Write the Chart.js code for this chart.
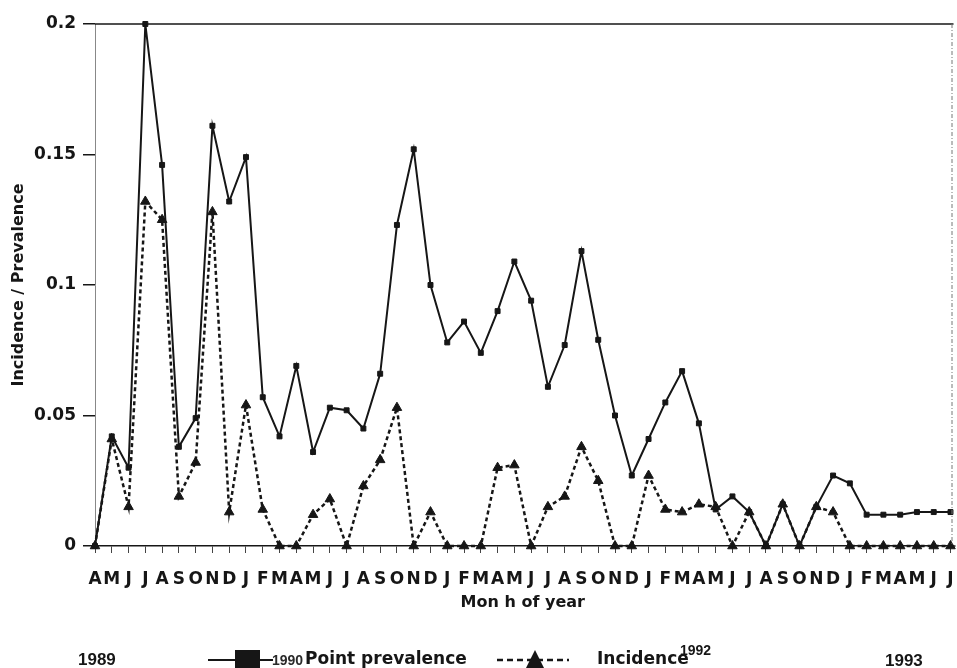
<!DOCTYPE html>
<html>
<head>
<meta charset="utf-8">
<script src="https://cdn.jsdelivr.net/npm/chart.js@4.4.1/dist/chart.umd.min.js"></script>
<style>
  html, body { margin: 0; padding: 0; background: #fff; }
  canvas { display: block; }
</style>
</head>
<body>
<canvas id="c" width="957" height="668"></canvas>
<script>
// Monthly series, April 1989 to July 1993
const months = [
  'A','M','J','J','A','S','O','N','D',
  'J','F','M','A','M','J','J','A','S','O','N','D',
  'J','F','M','A','M','J','J','A','S','O','N','D',
  'J','F','M','A','M','J','J','A','S','O','N','D',
  'J','F','M','A','M','J','J'
];

const prevalence = [
  0, 0.042, 0.030, 0.200, 0.146, 0.038, 0.049, 0.161, 0.132,
  0.149, 0.057, 0.042, 0.069, 0.036, 0.053, 0.052, 0.045, 0.066, 0.123, 0.152, 0.100,
  0.078, 0.086, 0.074, 0.090, 0.109, 0.094, 0.061, 0.077, 0.113, 0.079, 0.050, 0.027,
  0.041, 0.055, 0.067, 0.047, 0.014, 0.019, 0.013, 0, 0.016, 0, 0.015, 0.027,
  0.024, 0.012, 0.012, 0.012, 0.013, 0.013, 0.013
];

const incidence = [
  0, 0.041, 0.015, 0.132, 0.125, 0.019, 0.032, 0.128, 0.013,
  0.054, 0.014, 0, 0, 0.012, 0.018, 0, 0.023, 0.033, 0.053, 0, 0.013,
  0, 0, 0, 0.030, 0.031, 0, 0.015, 0.019, 0.038, 0.025, 0, 0,
  0.027, 0.014, 0.013, 0.016, 0.015, 0, 0.013, 0, 0.016, 0, 0.015, 0.013,
  0, 0, 0, 0, 0, 0, 0
];

const yTicks = [0, 0.05, 0.1, 0.15, 0.2];
const seriesNames = ['Point prevalence', 'Incidence'];
const yearLabels = ['1989', '1990', '1992', '1993'];
const yAxisTitle = 'Incidence / Prevalence';
const xAxisTitle = 'Mon h of year';

const INK = '#161616';
const BOLD = 'DejaVu Sans';

// Frame lines (top rule, dashed right edge) and the legend row beneath the axis
const framePlugin = {
  id: 'frame',
  afterDraw(chart) {
    const { ctx, chartArea: a } = chart;
    ctx.save();
    ctx.strokeStyle = INK;
    ctx.lineWidth = 1.5;
    ctx.beginPath();
    ctx.moveTo(a.left, a.top);
    ctx.lineTo(a.right + 3, a.top);
    ctx.stroke();

    ctx.strokeStyle = '#777';
    ctx.lineWidth = 1;
    ctx.setLineDash([4, 2, 1, 2]);
    ctx.beginPath();
    ctx.moveTo(a.right + 1.5, a.top);
    ctx.lineTo(a.right + 1.5, a.bottom);
    ctx.stroke();
    ctx.setLineDash([]);

    // x axis runs slightly past the last month
    ctx.strokeStyle = INK;
    ctx.lineWidth = 1.5;
    ctx.beginPath();
    ctx.moveTo(a.right, a.bottom);
    ctx.lineTo(a.right + 5, a.bottom);
    ctx.stroke();

    // legend row
    const ly = 660;
    ctx.fillStyle = INK;
    ctx.textBaseline = 'middle';
    ctx.textAlign = 'left';

    ctx.font = 'bold 17px "Liberation Sans"';
    ctx.fillText(yearLabels[0], 78, ly);

    ctx.lineWidth = 2;
    ctx.beginPath();
    ctx.moveTo(208, ly);
    ctx.lineTo(273, ly);
    ctx.stroke();
    ctx.fillRect(235, 650, 25, 25);

    ctx.fillStyle = '#2a2a2a';
    ctx.font = 'bold 14px "Liberation Sans"';
    ctx.fillText(yearLabels[1], 272, ly + 1);

    ctx.fillStyle = INK;
    ctx.font = 'bold 17px "' + BOLD + '"';
    ctx.fillText(seriesNames[0], 305, ly);

    ctx.lineWidth = 2.5;
    ctx.setLineDash([6, 4]);
    ctx.beginPath();
    ctx.moveTo(497, ly);
    ctx.lineTo(569, ly);
    ctx.stroke();
    ctx.setLineDash([]);
    ctx.beginPath();
    ctx.moveTo(535, 650);
    ctx.lineTo(544, 668);
    ctx.lineTo(526, 668);
    ctx.closePath();
    ctx.fill();

    ctx.font = 'bold 17px "' + BOLD + '"';
    ctx.fillText(seriesNames[1], 597, ly);

    ctx.font = 'bold 14px "Liberation Sans"';
    ctx.fillText(yearLabels[2], 680, ly - 9);

    ctx.font = 'bold 17px "Liberation Sans"';
    ctx.fillText(yearLabels[3], 885, ly + 1);
    ctx.restore();
  }
};

new Chart(document.getElementById('c'), {
  type: 'line',
  data: {
    labels: months,
    datasets: [
      {
        label: seriesNames[0],
        data: prevalence,
        order: 1,
        borderColor: INK,
        backgroundColor: INK,
        borderWidth: 2,
        pointStyle: 'rect',
        pointRadius: 3.5,
        pointBorderWidth: 1,
        tension: 0,
        clip: false
      },
      {
        label: seriesNames[1],
        data: incidence,
        order: 0,
        borderColor: INK,
        backgroundColor: INK,
        borderWidth: 2.5,
        borderDash: [4, 3],
        pointStyle: 'triangle',
        pointRadius: 5.5,
        pointBorderWidth: 1,
        tension: 0,
        clip: false
      }
    ]
  },
  options: {
    responsive: false,
    animation: false,
    devicePixelRatio: 1,
    layout: { padding: { top: 24, right: 5, bottom: 48, left: 0 } },
    plugins: {
      legend: { display: false },
      tooltip: { enabled: false }
    },
    scales: {
      x: {
        type: 'category',
        offset: false,
        grid: {
          drawOnChartArea: false,
          drawTicks: true,
          tickLength: 7,
          color: '#444',
          lineWidth: 1
        },
        border: { display: true, color: INK, width: 1.5 },
        ticks: {
          autoSkip: false,
          maxRotation: 0,
          minRotation: 0,
          padding: 16,
          color: INK,
          font: { family: BOLD, weight: 'bold', size: 17 }
        },
        title: {
          display: true,
          text: xAxisTitle,
          color: INK,
          font: { family: BOLD, weight: 'bold', size: 16 },
          padding: { top: 0, bottom: 8 }
        },
        afterFit(scale) {
          scale.height = 74;
          scale.paddingLeft = 0;
          scale.paddingRight = 0;
        }
      },
      y: {
        min: 0,
        max: 0.2,
        afterBuildTicks(scale) { scale.ticks = yTicks.map(v => ({ value: v })); },
        grid: {
          drawOnChartArea: false,
          drawTicks: true,
          tickLength: 12,
          color: INK,
          lineWidth: 1.5
        },
        border: { display: true, color: '#888', width: 1, dash: [4, 2, 1, 2] },
        ticks: {
          padding: 7,
          color: INK,
          font: { family: BOLD, weight: 'bold', size: 17 },
          callback: v => String(v)
        },
        title: {
          display: true,
          text: yAxisTitle,
          color: INK,
          font: { family: BOLD, weight: 'bold', size: 16 },
          padding: { top: 9, bottom: 0 }
        },
        afterFit(scale) { scale.width = 95; }
      }
    }
  },
  plugins: [framePlugin]
});
</script>
</body>
</html>
